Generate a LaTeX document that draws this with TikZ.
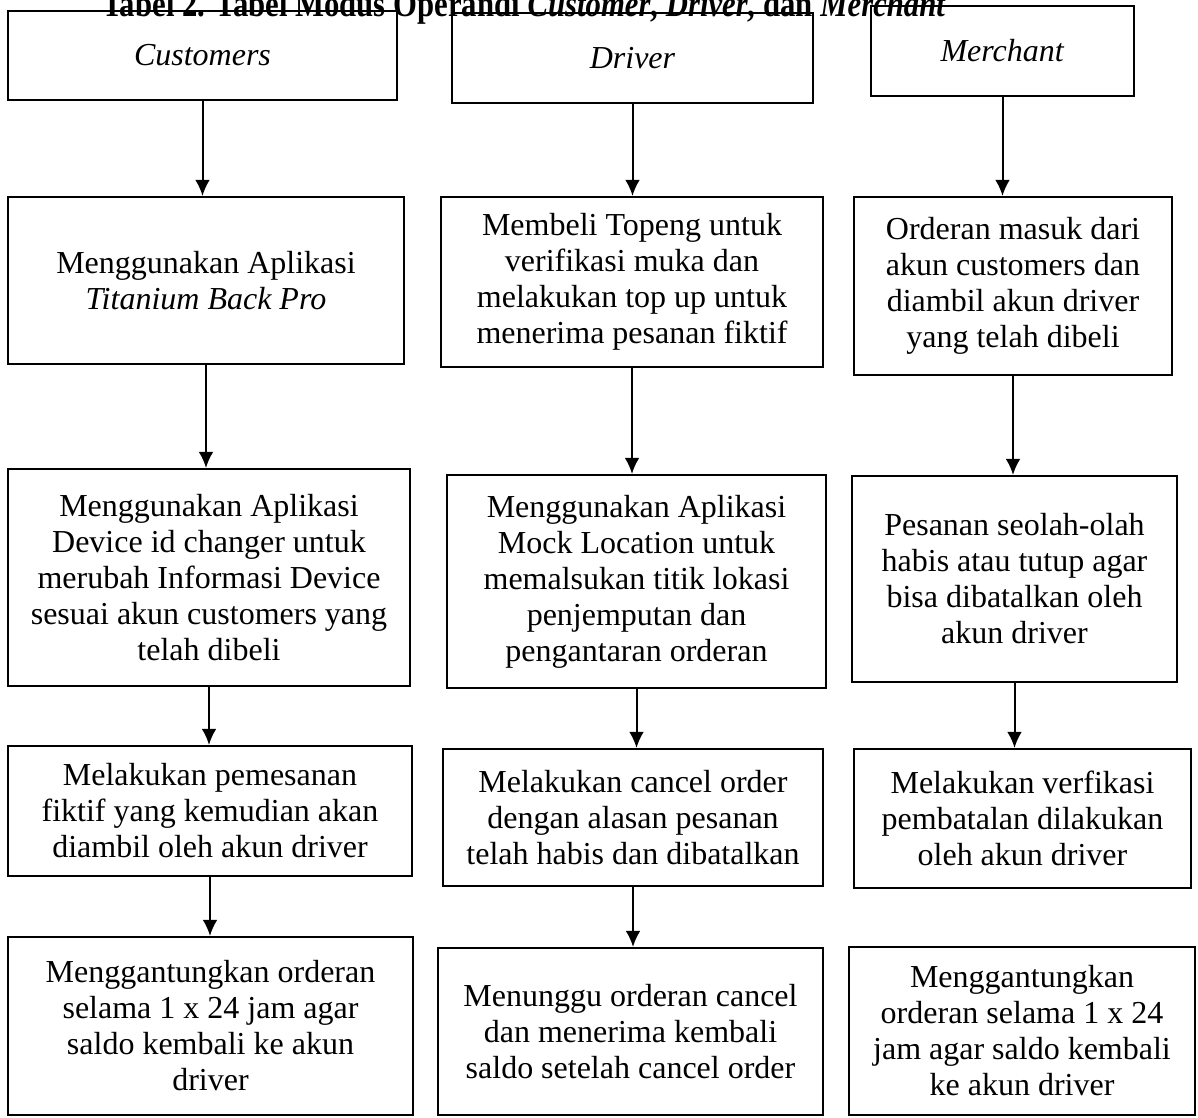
\documentclass[tikz,border=0pt]{standalone}
\usepackage{fontspec}
\setmainfont{Liberation Serif}
\usetikzlibrary{arrows.meta}
\tikzset{>={Latex[length=6pt,width=5.5pt]}}
\tikzset{
  flowbox/.style 2 args = {
    draw, line width=0.8pt, inner sep=0pt, align=center,
    minimum width=#1*0.375pt, minimum height=#2*0.375pt,
    font=\fontsize{12}{13.5}\selectfont
  },
  flow/.style = {->, line width=0.75pt}
}

\begin{document}
\begin{tikzpicture}[x=0.375pt,y=-0.375pt]
  \useasboundingbox (0,0) rectangle (1198,1118);
  \node[anchor=base,font=\fontsize{12}{13.5}\selectfont\bfseries] (title) at (524,17)
    {\scalebox{0.96}[1.15]{Tabel 2. Tabel Modus Operandi \textit{Customer}, \textit{Driver}, dan \textit{Merchant}}};

  % customers
  \node[flowbox={389}{89}] (cust) at (202.5,55.5) {\textit{Customers}};
  \node[flowbox={396}{167}] (cust1) at (206,280.5)
    {Menggunakan Aplikasi\\\textit{Titanium Back Pro}};
  \node[flowbox={402}{217}] (cust2) at (209,577.5)
    {Menggunakan Aplikasi\\Device id changer untuk\\merubah Informasi Device\\sesuai akun customers yang\\telah dibeli};
  \node[flowbox={404}{130}] (cust3) at (210,811)
    {Melakukan pemesanan\\fiktif yang kemudian akan\\diambil oleh akun driver};
  \node[flowbox={405}{178}] (cust4) at (210.5,1026)
    {Menggantungkan orderan\\selama 1 x 24 jam agar\\saldo kembali ke akun\\driver};

  % driver
  \node[flowbox={361}{90}] (drv) at (632.5,58) {\textit{Driver}};
  \node[flowbox={382}{170}] (drv1) at (632,282)
    {Membeli Topeng untuk\\verifikasi muka dan\\melakukan top up untuk\\menerima pesanan fiktif};
  \node[flowbox={379}{213}] (drv2) at (636.5,581.5)
    {Menggunakan Aplikasi\\Mock Location untuk\\memalsukan titik lokasi\\penjemputan dan\\pengantaran orderan};
  \node[flowbox={380}{137}] (drv3) at (633,817.5)
    {Melakukan cancel order\\dengan alasan pesanan\\telah habis dan dibatalkan};
  \node[flowbox={385}{167}] (drv4) at (630.5,1031.5)
    {Menunggu orderan cancel\\dan menerima kembali\\saldo setelah cancel order};

  % merchant
  \node[flowbox={263}{90}] (mer) at (1002.5,51) {\textit{Merchant}};
  \node[flowbox={318}{178}] (mer1) at (1013,286)
    {Orderan masuk dari\\akun customers dan\\diambil akun driver\\yang telah dibeli};
  \node[flowbox={325}{206}] (mer2) at (1014.5,579)
    {Pesanan seolah-olah\\habis atau tutup agar\\bisa dibatalkan oleh\\akun driver};
  \node[flowbox={337}{139}] (mer3) at (1022.5,818.5)
    {Melakukan verfikasi\\pembatalan dilakukan\\oleh akun driver};
  \node[flowbox={346}{168}] (mer4) at (1022,1031)
    {Menggantungkan\\orderan selama 1 x 24\\jam agar saldo kembali\\ke akun driver};

  \draw[flow] (cust.south) -- (cust.south |- cust1.north);
  \draw[flow] (cust1.south) -- (cust1.south |- cust2.north);
  \draw[flow] (cust2.south) -- (cust2.south |- cust3.north);
  \draw[flow] (cust3.south) -- (cust3.south |- cust4.north);
  \draw[flow] (drv.south) -- (drv.south |- drv1.north);
  \draw[flow] (drv1.south) -- (drv1.south |- drv2.north);
  \draw[flow] (drv2.south) -- (drv2.south |- drv3.north);
  \draw[flow] (drv3.south) -- (drv3.south |- drv4.north);
  \draw[flow] (mer.south) -- (mer.south |- mer1.north);
  \draw[flow] (mer1.south) -- (mer1.south |- mer2.north);
  \draw[flow] (mer2.south) -- (mer2.south |- mer3.north);
\end{tikzpicture}
\end{document}
